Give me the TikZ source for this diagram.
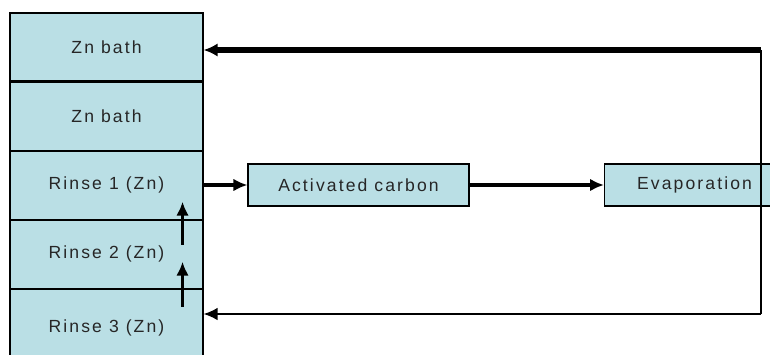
\documentclass[tikz,border=0pt]{standalone}
\usepackage{fontspec}
\setmainfont{Liberation Sans}[LetterSpace=12]
\usetikzlibrary{arrows.meta}
\usetikzlibrary{positioning}
\definecolor{bathblue}{RGB}{186,223,229}
\tikzset{tank/.style = {draw, fill=bathblue, line width=0.9pt, text=black!85,
                        minimum width=5.79cm, minimum height=2.04cm, inner sep=0,
                        font=\fontsize{15}{17}\selectfont}}
\tikzset{unit/.style = {draw, fill=bathblue, line width=0.9pt, text=black!85,
                        minimum height=1.26cm, inner sep=0,
                        font=\fontsize{15}{17}\selectfont}}
\tikzset{flow/.style = {line width=3.2pt, -{Latex[length=0.42cm,width=0.38cm]}}}
\tikzset{ret/.style = {line width=1.7pt}}

\begin{document}
\begin{tikzpicture}[x=0.03cm, y=-0.03cm]
    \useasboundingbox (0,0) rectangle (770,354);
    \clip (0,0) rectangle (770,354);

    % zinc line
    \node [tank] (zn1) at (106.5,47) {Zn bath};
    \node [tank, below=0pt of zn1] (zn2) {Zn bath};
    \node [tank, below=0pt of zn2] (rinse1) {Rinse 1 (Zn)};
    \node [tank, below=0pt of rinse1] (rinse2) {Rinse 2 (Zn)};
    \node [tank, below=0pt of rinse2, minimum height=2.3cm] (rinse3) {Rinse 3 (Zn)};

    % treatment
    \node [unit, minimum width=6.63cm] (carbon) at (358.5,185) {Activated carbon};
    \node [unit, minimum width=5.4cm, anchor=west] (evap) at (604,185) {Evaporation};

    \coordinate (top) at (761,50);
    \coordinate (bot) at (761,314);

    \draw [flow] (rinse1.east |- carbon) -- (carbon);
    \draw [flow] (carbon) -- (evap);

    % counter flow of the rinses
    \draw [flow] ([xshift=-0.63cm, yshift=-0.75cm]rinse2.north east)
        -- ([xshift=-0.63cm, yshift=0.54cm]rinse2.north east);
    \draw [flow] ([xshift=-0.63cm, yshift=-0.54cm]rinse3.north east)
        -- ([xshift=-0.63cm, yshift=0.81cm]rinse3.north east);

    % back to the baths
    \draw [ret] (top) -- (bot);
    \draw [line width=4.5pt, -{Latex[length=0.42cm,width=0.4cm]}] (top) -- (top -| zn1.east);
    \draw [ret, -{Latex[length=0.42cm,width=0.38cm]}] (bot) -- (bot -| rinse3.east);
\end{tikzpicture}
\end{document}
